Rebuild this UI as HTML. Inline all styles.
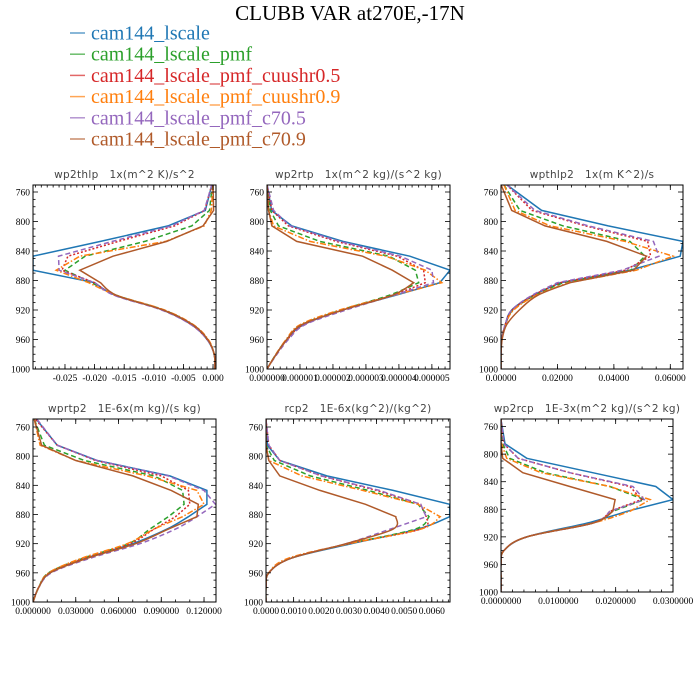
<!DOCTYPE html>
<html><head><meta charset="utf-8">
<style>
body{margin:0;background:#fff;}
svg{display:block;}
.ttl{font-family:"Liberation Serif",serif;font-size:21px;fill:#000;}
.leg{font-family:"Liberation Serif",serif;font-size:20px;}
.ptitle{font-family:"DejaVu Sans","Liberation Sans",sans-serif;font-size:10.5px;fill:#444;letter-spacing:0.3px;white-space:pre;}
.tick{font-family:"Liberation Serif",serif;font-size:9.5px;fill:#000;}
</style></head>
<body>
<svg id="chart" width="700" height="700" viewBox="0 0 700 700" xmlns="http://www.w3.org/2000/svg">
<rect width="700" height="700" fill="#fff"/>
<text class="ttl" x="350" y="20" text-anchor="middle">CLUBB VAR at270E,-17N</text>
<g id="legend"></g>
<g id="panels"></g>
</svg>
<script>
const seriesNames = ["cam144_lscale","cam144_lscale_pmf","cam144_lscale_pmf_cuushr0.5","cam144_lscale_pmf_cuushr0.9","cam144_lscale_pmf_c70.5","cam144_lscale_pmf_c70.9"];
const levels = [750,785,806,827,847,866,883,900,920,940,960,980,1000];
const yTicks = [760,800,840,880,920,960,1000];

const p1Title = "wp2thlp   1x(m^2 K)/s^2";
const p1Ticks = [-0.025,-0.02,-0.015,-0.01,-0.005,0];
const p1Labels = ["-0.025","-0.020","-0.015","-0.010","-0.005","0.000"];
const p1Blue = [-0.0002,-0.0013,-0.0076,-0.019,-0.0304,-0.0304,-0.020,-0.0165,-0.0085,-0.0036,-0.001,0.0002,0.0003];
const p1Green = [-0.0001,-0.0006,-0.0036,-0.0115,-0.0216,-0.025,-0.0205,-0.0163,-0.0083,-0.0034,-0.0009,0.0002,0.0003];
const p1Red = [-0.0002,-0.0014,-0.0065,-0.016,-0.0245,-0.0255,-0.020,-0.0165,-0.0085,-0.0036,-0.001,0.0002,0.0003];
const p1Orange = [0,-0.0003,-0.0015,-0.008,-0.0225,-0.0265,-0.021,-0.0163,-0.0082,-0.0033,-0.0008,0.0002,0.0003];
const p1Purple = [-0.0002,-0.0015,-0.007,-0.017,-0.0261,-0.026,-0.020,-0.0167,-0.0087,-0.0037,-0.001,0.0002,0.0003];
const p1Brown = [0,0.0001,-0.0017,-0.0078,-0.0169,-0.0225,-0.019,-0.0163,-0.0084,-0.0034,-0.0009,0.0002,0.0003];

const p2Title = "wp2rtp   1x(m^2 kg)/(s^2 kg)";
const p2Ticks = [0,1,2,3,4,5];
const p2Labels = ["0.000000","0.000001","0.000002","0.000003","0.000004","0.000005"];
const p2Blue = [0,0.14,0.75,2.3,4.33,5.55,5.24,3.9,2.3,1.1,0.6,0.28,0];
const p2Green = [0,0.1,0.35,1.6,3.7,4.5,4.6,3.7,2.25,1.05,0.6,0.27,0];
const p2Red = [0,0.15,0.65,2.1,3.95,4.75,4.8,3.8,2.3,1.1,0.62,0.28,0];
const p2Orange = [0,0.05,0.2,1.3,3.6,4.8,5.3,3.85,2.2,1.0,0.58,0.27,0];
const p2Purple = [0,0.2,0.7,2.2,4.05,5.0,5.05,3.85,2.4,1.15,0.65,0.3,0];
const p2Brown = [0,0.05,0.15,0.9,2.9,3.8,4.45,3.8,2.3,1.05,0.6,0.28,0];

const p3Title = "wpthlp2   1x(m K^2)/s";
const p3Ticks = [0,0.02,0.04,0.06];
const p3Labels = ["0.00000","0.02000","0.04000","0.06000"];
const p3Blue = [0.002,0.0144,0.038,0.0645,0.0635,0.0457,0.021,0.0114,0.0038,0.0015,0.0003,0,0];
const p3Green = [0.001,0.0067,0.022,0.0457,0.051,0.046,0.022,0.012,0.0042,0.0016,0.0003,0,0];
const p3Red = [0.002,0.011,0.030,0.052,0.053,0.044,0.021,0.0115,0.004,0.0015,0.0003,0,0];
const p3Orange = [0.001,0.005,0.0174,0.044,0.061,0.048,0.024,0.0125,0.0045,0.0016,0.0003,0,0];
const p3Purple = [0.002,0.012,0.031,0.054,0.056,0.043,0.020,0.011,0.0038,0.0015,0.0003,0,0];
const p3Brown = [0,0.0038,0.0156,0.0375,0.0516,0.047,0.0245,0.013,0.0065,0.002,0.0004,0,0];

const p4Title = "wprtp2   1E-6x(m kg)/(s kg)";
const p4Ticks = [0,0.03,0.06,0.09,0.12];
const p4Labels = ["0.000000","0.030000","0.060000","0.090000","0.120000"];
const p4Blue = [0.0026,0.017,0.045,0.096,0.122,0.122,0.109,0.094,0.070,0.037,0.012,0.004,0];
const p4Green = [0.001,0.008,0.036,0.085,0.105,0.106,0.095,0.082,0.067,0.035,0.011,0.004,0];
const p4Red = [0.002,0.017,0.044,0.09,0.109,0.11,0.1,0.085,0.068,0.036,0.012,0.004,0];
const p4Orange = [0.001,0.005,0.03,0.08,0.115,0.12,0.105,0.085,0.066,0.034,0.011,0.004,0];
const p4Purple = [0.003,0.017,0.045,0.095,0.12,0.128,0.115,0.1,0.075,0.04,0.013,0.004,0];
const p4Brown = [0.001,0.006,0.03,0.07,0.097,0.116,0.115,0.095,0.072,0.038,0.012,0.004,0];

const p5Title = "rcp2   1E-6x(kg^2)/(kg^2)";
const p5Ticks = [0,0.001,0.002,0.003,0.004,0.005,0.006];
const p5Labels = ["0.0000","0.0010","0.0020","0.0030","0.0040","0.0050","0.0060"];
const p5Blue = [0,0.00005,0.0005,0.0022,0.0046,0.00665,0.00665,0.0055,0.0031,0.0009,0.0001,0,0];
const p5Green = [0,0,0.0003,0.0016,0.0037,0.0055,0.0059,0.0054,0.003,0.0009,0.0001,0,0];
const p5Red = [0,0.0001,0.0005,0.002,0.004,0.0056,0.0058,0.0056,0.003,0.0009,0.0001,0,0];
const p5Orange = [0,0,0.0001,0.0013,0.0035,0.0055,0.0063,0.0056,0.003,0.0008,0.0001,0,0];
const p5Purple = [0,0.0001,0.0005,0.002,0.0041,0.0056,0.0058,0.0045,0.0029,0.0009,0.0001,0,0];
const p5Brown = [0,0,0.0001,0.0005,0.00195,0.0036,0.0047,0.0046,0.0029,0.0009,0.0001,0,0];

const p6Title = "wp2rcp   1E-3x(m^2 kg)/(s^2 kg)";
const p6Ticks = [0,0.01,0.02,0.03];
const p6Labels = ["0.0000000","0.0100000","0.0200000","0.0300000"];
const p6Blue = [0,0.0007,0.0045,0.016,0.027,0.030,0.022,0.015,0.0045,0.0005,0,0,0];
const p6Green = [0,0.0003,0.0015,0.0077,0.019,0.025,0.0195,0.016,0.0045,0.0005,0,0,0];
const p6Red = [0,0.0005,0.003,0.012,0.0225,0.0245,0.019,0.016,0.0045,0.0005,0,0,0];
const p6Orange = [0,0.0001,0.001,0.007,0.019,0.026,0.0225,0.016,0.0045,0.0005,0,0,0];
const p6Purple = [0,0.0005,0.003,0.012,0.023,0.025,0.019,0.016,0.0045,0.0005,0,0,0];
const p6Brown = [0,0,0.0003,0.0038,0.012,0.0199,0.0195,0.016,0.0045,0.0005,0,0,0];

const colors = ["#1f77b4","#2ca02c","#d62728","#ff7f0e","#9467bd","#b05a2a"];
const dashes = ["", "5,3", "2,2", "6,2,1.5,2", "5,3", ""];
const NS = "http://www.w3.org/2000/svg";
function mk(tag, attrs, parent){const e=document.createElementNS(NS,tag);for(const k in attrs)e.setAttribute(k,attrs[k]);parent.appendChild(e);return e;}

const leg = document.getElementById('legend');
seriesNames.forEach((n,i)=>{
  const y = 33 + i*21.2;
  const g = mk('g',{},leg);
  
  
  mk('line',{x1:70,x2:85,y1:y,y2:y,stroke:colors[i],'stroke-width':1.5,opacity:0.7},g);
  const t = mk('text',{x:91,y:y+6.5,class:'leg',fill:colors[i]},g);
  t.textContent = n;
});

const panels = [
 {title:p1Title,ticks:p1Ticks,labels:p1Labels,xmin:-0.0304,xmax:0.0005,minor:0.001,series:[p1Blue,p1Green,p1Red,p1Orange,p1Purple,p1Brown],box:[33,185,216,369],name:'wp2thlp'},
 {title:p2Title,ticks:p2Ticks,labels:p2Labels,xmin:0,xmax:5.55,minor:0.2,series:[p2Blue,p2Green,p2Red,p2Orange,p2Purple,p2Brown],box:[267,185,450,369],name:'wp2rtp'},
 {title:p3Title,ticks:p3Ticks,labels:p3Labels,xmin:0,xmax:0.0645,minor:0.005,series:[p3Blue,p3Green,p3Red,p3Orange,p3Purple,p3Brown],box:[501,185,683,369],name:'wpthlp2'},
 {title:p4Title,ticks:p4Ticks,labels:p4Labels,xmin:0,xmax:0.1284,minor:0.01,series:[p4Blue,p4Green,p4Red,p4Orange,p4Purple,p4Brown],box:[33,419,216,602],name:'wprtp2'},
 {title:p5Title,ticks:p5Ticks,labels:p5Labels,xmin:0,xmax:0.00666,minor:0.0002,series:[p5Blue,p5Green,p5Red,p5Orange,p5Purple,p5Brown],box:[266,419,450,602],name:'rcp2'},
 {title:p6Title,ticks:p6Ticks,labels:p6Labels,xmin:0,xmax:0.03,minor:0.002,series:[p6Blue,p6Green,p6Red,p6Orange,p6Purple,p6Brown],box:[501,419,673,592],name:'wp2rcp'}
];
const SMOOTH_FROM = 6; // smooth (Catmull-Rom) rendering below this level index
const pw = document.getElementById('panels');
panels.forEach(P=>{
  const [L,T,R,B] = P.box;
  const g = mk('g',{},pw);
  
  
  const ymin=760-(T>400? (427-T)/(175/240) : (192-T)/0.7375);
  const yScale = p => T + (p - ymin)/(1000 - ymin)*(B-T);
  const xScale = v => L + (v - P.xmin)/(P.xmax - P.xmin)*(R-L);
  const t = mk('text',{x:(L+R)/2,y:T-7,class:'ptitle','text-anchor':'middle'},g);
  
  
  t.textContent = P.title;
  const cid='clip-'+P.name;
  const cp = mk('clipPath',{id:cid},g);
  mk('rect',{x:L,y:T,width:R-L,height:B-T},cp);
  const sg = mk('g',{'clip-path':'url(#'+cid+')'},g);
  P.series.forEach((arr,i)=>{
    const pts = arr.map((v,k)=>[xScale(v), yScale(levels[k])]);
    let d = 'M'+pts[0][0].toFixed(1)+','+pts[0][1].toFixed(1);
    for(let k=1;k<pts.length;k++){
      if(k-1>=SMOOTH_FROM){
        const p0=pts[Math.max(k-2,SMOOTH_FROM)], p1=pts[k-1], p2=pts[k], p3=pts[Math.min(k+1,pts.length-1)];
        const c1=[p1[0]+(p2[0]-p0[0])/6, p1[1]+(p2[1]-p0[1])/6];
        const c2=[p2[0]-(p3[0]-p1[0])/6, p2[1]-(p3[1]-p1[1])/6];
        d+=' C'+c1[0].toFixed(1)+','+c1[1].toFixed(1)+' '+c2[0].toFixed(1)+','+c2[1].toFixed(1)+' '+p2[0].toFixed(1)+','+p2[1].toFixed(1);
      } else {
        d+=' L'+pts[k][0].toFixed(1)+','+pts[k][1].toFixed(1);
      }
    }
    const path = mk('path',{d:d,fill:'none',stroke:colors[i],'stroke-width':1.5,'stroke-dasharray':dashes[i]||'none'},sg);
    
    
  });
  const bx = mk('rect',{x:L,y:T,width:R-L,height:B-T,fill:'none',stroke:'#000','stroke-width':1},g);
  
  
  for(let p=760;p<=1000;p+=10){
    const y=yScale(p); const maj = (p-760)%40===0; const len = maj?5:2.5;
    mk('line',{x1:L,x2:L+len,y1:y,y2:y,stroke:'#000','stroke-width':0.8},g);
    mk('line',{x1:R,x2:R-len,y1:y,y2:y,stroke:'#000','stroke-width':0.8},g);
  }
  yTicks.forEach(p=>{
    const tx = mk('text',{x:L-3,y:yScale(p)+3.5,class:'tick','text-anchor':'end'},g);
    
    
    tx.textContent = p;
  });
  const s = Math.ceil(P.xmin/P.minor - 1e-9);
  for(let k=s; k*P.minor<=P.xmax+1e-12; k++){
    const x=xScale(k*P.minor);
    mk('line',{x1:x,x2:x,y1:B,y2:B-2.5,stroke:'#000','stroke-width':0.8},g);
    mk('line',{x1:x,x2:x,y1:T,y2:T+2.5,stroke:'#000','stroke-width':0.8},g);
  }
  P.ticks.forEach((v,i)=>{
    const x=xScale(v);
    mk('line',{x1:x,x2:x,y1:B,y2:B-5,stroke:'#000','stroke-width':0.8},g);
    mk('line',{x1:x,x2:x,y1:T,y2:T+5,stroke:'#000','stroke-width':0.8},g);
    const tx = mk('text',{x:x,y:B+12,class:'tick','text-anchor':'middle'},g);
    
    
    tx.textContent = P.labels[i];
  });
});
</script>
</body></html>
